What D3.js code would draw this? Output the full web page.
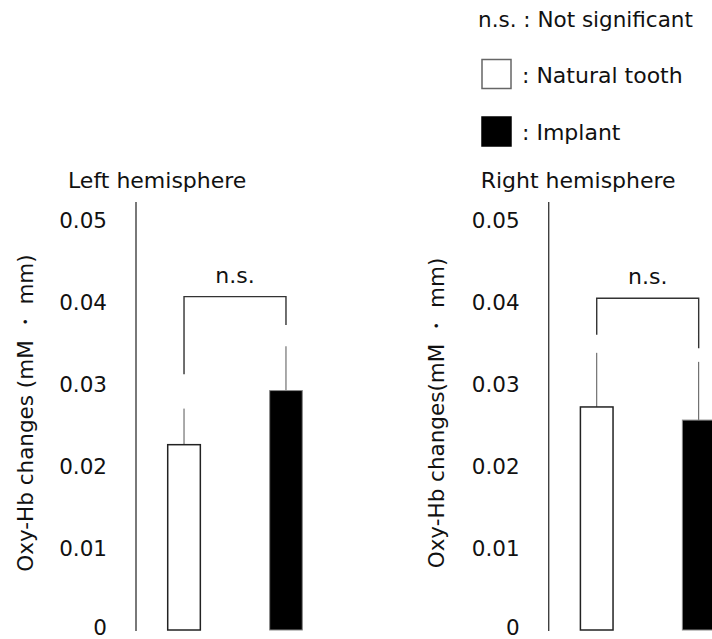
<!DOCTYPE html>
<html>
<head>
<meta charset="utf-8">
<script src="https://cdn.jsdelivr.net/npm/d3@7"></script>
<style>
  body { margin: 0; background: #fff; }
  text { font-family: "DejaVu Sans", sans-serif; fill: #111; }
</style>
</head>
<body>
<svg id="chart" width="712" height="639"></svg>
<script>
// chart values
const groups = ["Natural tooth", "Implant"];
const panelTitles = ["Left hemisphere", "Right hemisphere"];
const yLabels = ["Oxy-Hb changes (mM \u30FB mm)", "Oxy-Hb changes(mM \u30FB mm)"];
const leftMeans = [0.0226, 0.0292];
const leftErrors = [0.0044, 0.0054];
const rightMeans = [0.0272, 0.0256];
const rightErrors = [0.0066, 0.0071];
// significance bracket: [left foot, top, right foot] in data units
const leftBracket = [0.0312, 0.04065, 0.0372];
const rightBracket = [0.0360, 0.04045, 0.03435];
const yTicks = [0, 0.01, 0.02, 0.03, 0.04, 0.05];
const legendItems = ["n.s. : Not significant", ": Natural tooth", ": Implant"];

const svg = d3.select("#chart");

const y = d3.scaleLinear().domain([0, 0.05]).range([630, 220]);

const panels = [
  { title: panelTitles[0], ylab: yLabels[0], means: leftMeans, errs: leftErrors, bracket: leftBracket, axisX: 136, labX: 25 },
  { title: panelTitles[1], ylab: yLabels[1], means: rightMeans, errs: rightErrors, bracket: rightBracket, axisX: 548.7, labX: 436 }
];

panels.forEach((p) => {
  const g = svg.append("g");

  const x = d3.scaleBand()
    .domain(groups)
    .range([p.axisX, p.axisX + 198])
    .paddingInner(0.68)
    .paddingOuter(0.311);

  // axis line, no tick marks
  g.append("line")
    .attr("x1", p.axisX).attr("x2", p.axisX)
    .attr("y1", y(0.0522)).attr("y2", y(0) + 1)
    .attr("stroke", "#404040")
    .attr("stroke-width", 1.4);

  g.selectAll(".tick-label")
    .data(yTicks)
    .join("text")
    .attr("class", "tick-label")
    .attr("x", p.axisX - 29)
    .attr("y", (d) => (d === 0 ? y(d) - 3 : y(d)))
    .attr("dy", "0.36em")
    .attr("text-anchor", "end")
    .style("font-size", "21.5px")
    .text((d) => (d === 0 ? "0" : d3.format(".2f")(d)));

  // title
  g.append("text")
    .attr("x", p.axisX - 68)
    .attr("y", 188)
    .style("font-size", "22px")
    .text(p.title);

  // rotated y label
  g.append("text")
    .attr("transform", `translate(${p.labX},${413}) rotate(-90)`)
    .attr("dy", "0.36em")
    .attr("text-anchor", "middle")
    .style("font-size", "21.5px")
    .text(p.ylab);

  // error whiskers (upper only)
  g.selectAll(".err")
    .data(groups)
    .join("line")
    .attr("class", "err")
    .attr("x1", (d) => x(d) + x.bandwidth() / 2)
    .attr("x2", (d) => x(d) + x.bandwidth() / 2)
    .attr("y1", (d, i) => y(p.means[i]))
    .attr("y2", (d, i) => y(p.means[i] + p.errs[i]))
    .attr("stroke", "#555")
    .attr("stroke-width", 1);

  // bars
  g.selectAll(".bar")
    .data(groups)
    .join("rect")
    .attr("class", "bar")
    .attr("x", (d) => x(d))
    .attr("width", x.bandwidth())
    .attr("y", (d, i) => y(p.means[i]))
    .attr("height", (d, i) => y(0) - y(p.means[i]))
    .attr("fill", (d, i) => (i === 0 ? "#fff" : "#000"))
    .attr("stroke", (d, i) => (i === 0 ? "#222" : "#888"))
    .attr("stroke-width", (d, i) => (i === 0 ? 1.5 : 1));

  // significance bracket
  const xa = x(groups[0]) + x.bandwidth() / 2;
  const xb = x(groups[1]) + x.bandwidth() / 2;
  g.append("path")
    .attr("d", `M${xa},${y(p.bracket[0])} V${y(p.bracket[1])} H${xb} V${y(p.bracket[2])}`)
    .attr("fill", "none")
    .attr("stroke", "#333")
    .attr("stroke-width", 1.4);

  g.append("text")
    .attr("x", (xa + xb) / 2)
    .attr("y", y(p.bracket[1]) - 14)
    .attr("text-anchor", "middle")
    .style("font-size", "22px")
    .text("n.s.");
});

// legend
const legend = svg.append("g");
legend.append("text")
  .attr("x", 478).attr("y", 27)
  .style("font-size", "21.5px")
  .text(legendItems[0]);

[1, 2].forEach((k, i) => {
  const top = 59.5 + i * 57.5;
  legend.append("rect")
    .attr("x", 482).attr("y", top)
    .attr("width", 29).attr("height", 29)
    .attr("fill", i === 0 ? "#fff" : "#000")
    .attr("stroke", i === 0 ? "#666" : "#000")
    .attr("stroke-width", 1.5);
  legend.append("text")
    .attr("x", 522).attr("y", top + 23)
    .style("font-size", "22px")
    .text(legendItems[k]);
});
</script>
</body>
</html>
